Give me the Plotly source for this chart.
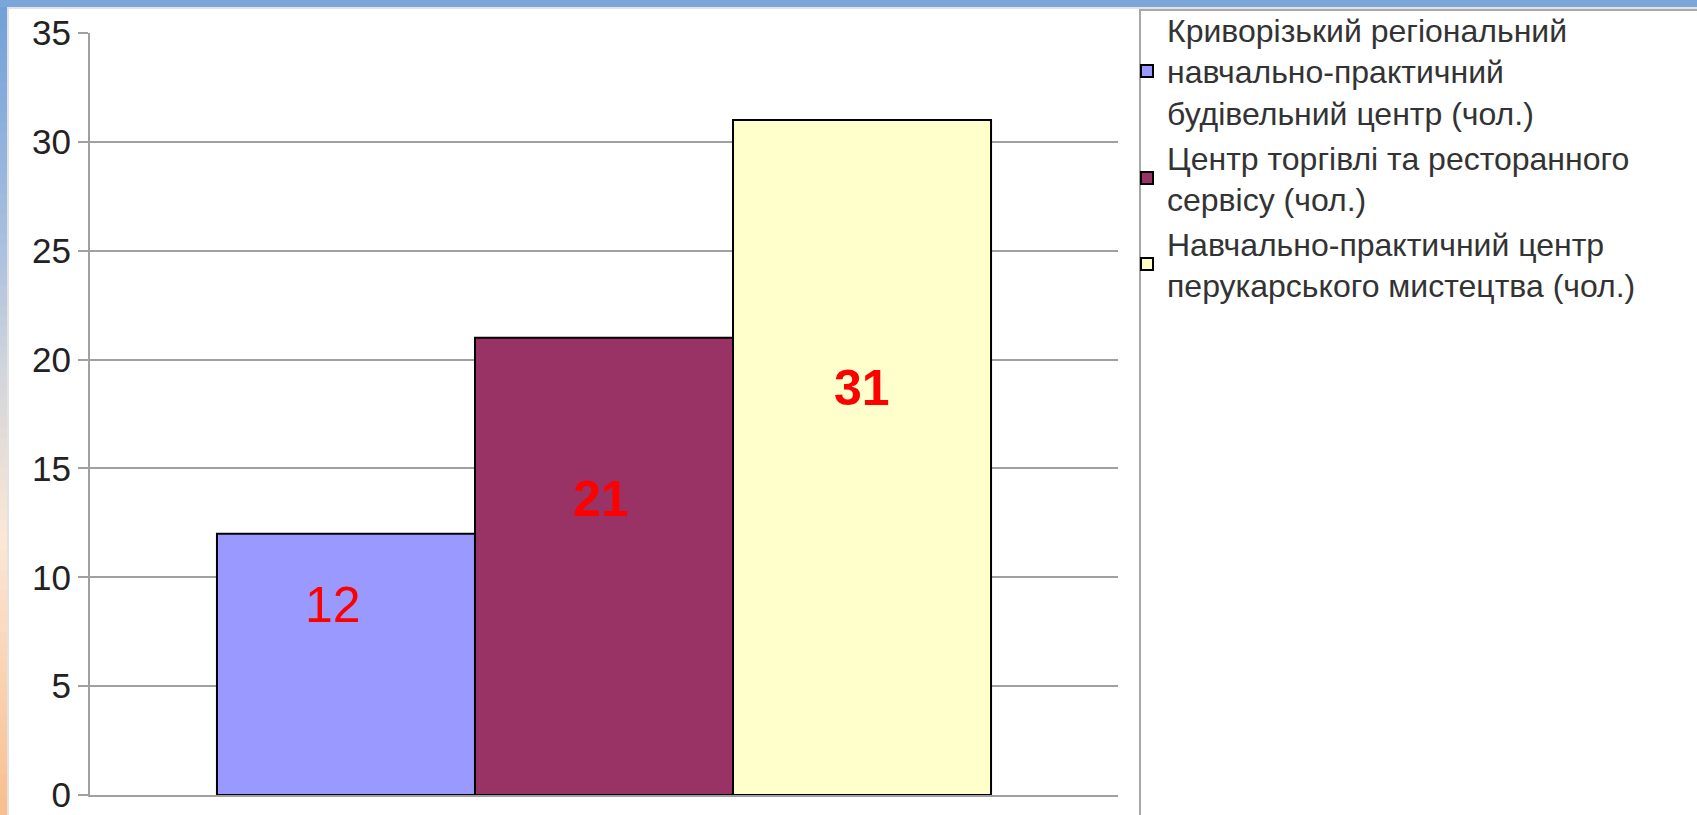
import plotly.graph_objects as go

# ---- data ----
series_names = [
    "Криворізький регіональний<br>навчально-практичний<br>будівельний центр (чол.)",
    "Центр торгівлі та ресторанного<br>сервісу (чол.)",
    "Навчально-практичний центр<br>перукарського мистецтва (чол.)",
]
values = [12, 21, 31]
bar_colors = ["#9999ff", "#993366", "#ffffcc"]
label_bold = [False, True, True]
y_ticks = [0, 5, 10, 15, 20, 25, 30, 35]

# label nudges in pixels (layout only)
label_shift = [(-13, 59), (-3, 67), (0, 70)]

W, H = 1697, 815
FONT = "Liberation Sans, Arial, sans-serif"
bargap = 0.247

fig = go.Figure()
for name, v, c in zip(series_names, values, bar_colors):
    fig.add_trace(go.Bar(
        x=[0], y=[v], name=name,
        marker=dict(color=c, line=dict(color="#000000", width=2)),
        hoverinfo="y+name",
    ))

# value labels
n = len(values)
w = (1 - bargap) / n
for i, (v, b) in enumerate(zip(values, label_bold)):
    dx, dy = label_shift[i]
    fig.add_annotation(
        x=(i - (n - 1) / 2) * w, y=v / 2, xref="x", yref="y",
        text=str(v), showarrow=False, xshift=dx, yshift=dy,
        font=dict(family=FONT, size=50, color="#ff0000", weight="bold" if b else "normal"),
    )

shapes = []
# left gradient strip (decorative frame)
stops = [
    (0.00, (111, 159, 216)),
    (0.30, (169, 192, 223)),
    (0.45, (208, 212, 220)),
    (0.60, (240, 226, 214)),
    (0.66, (252, 231, 214)),
    (1.00, (248, 190, 142)),
]
def col_at(t):
    for (t0, c0), (t1, c1) in zip(stops[:-1], stops[1:]):
        if t0 <= t <= t1:
            f = (t - t0) / (t1 - t0) if t1 > t0 else 0
            return "rgb(%d,%d,%d)" % tuple(round(a + (b - a) * f) for a, b in zip(c0, c1))
    return "rgb(%d,%d,%d)" % stops[-1][1]
N = 80
for k in range(N):
    y0 = 1 - k / N
    y1 = 1 - (k + 1) / N
    shapes.append(dict(type="rect", xref="paper", yref="paper", x0=0, x1=7 / W,
                       y0=y1 - 0.002, y1=y0, fillcolor=col_at((k + 0.5) / N), line=dict(width=0), layer="below"))
# top blue band
shapes.append(dict(type="rect", xref="paper", yref="paper", x0=0, x1=1, y0=1 - 7 / H, y1=1,
                   fillcolor="#7ba6da", line=dict(width=0), layer="below"))
# faint panel edge
shapes.append(dict(type="line", xref="paper", yref="paper", x0=8 / W, x1=8 / W, y0=0, y1=1 - 7 / H,
                   line=dict(color="#e2e2e2", width=2), layer="below"))
shapes.append(dict(type="line", xref="paper", yref="paper", x0=8 / W, x1=1, y0=1 - 8 / H, y1=1 - 8 / H,
                   line=dict(color="#e2e2e2", width=2), layer="below"))
# legend frame
shapes.append(dict(type="rect", xref="paper", yref="paper", x0=1140 / W, x1=1.01, y0=-0.02, y1=1 - 10 / H,
                   line=dict(color="#a8a8a8", width=2), fillcolor="rgba(0,0,0,0)", layer="below"))

fig.update_layout(
    template="none",
    width=W, height=H,
    margin=dict(l=0, r=0, t=0, b=0, pad=0),
    paper_bgcolor="#ffffff", plot_bgcolor="#ffffff",
    barmode="group", bargap=bargap, bargroupgap=0,
    font=dict(family=FONT, color="#222222"),
    showlegend=True,
    legend=dict(
        x=1127 / W, xanchor="left", y=1 - 2 / H, yanchor="top",
        font=dict(family=FONT, size=32, color="#333333"),
        bgcolor="rgba(0,0,0,0)", borderwidth=0,
        tracegroupgap=0, itemsizing="trace",
    ),
    xaxis=dict(
        domain=[90 / W, 1118 / W], range=[-0.5, 0.5], type="linear",
        showticklabels=False, showgrid=False, zeroline=False,
        showline=True, linecolor="#a0a0a0", linewidth=2, ticks="", automargin=False,
    ),
    yaxis=dict(
        domain=[(H - 795) / H, (H - 33) / H], range=[0, 35],
        tickvals=y_ticks, ticktext=[str(t) for t in y_ticks],
        tickfont=dict(family=FONT, size=35, color="#222222"),
        showgrid=True, gridcolor="#a0a0a0", gridwidth=2,
        zeroline=False, showline=True, linecolor="#a0a0a0", linewidth=2,
        ticks="outside", ticklen=10, tickcolor="#a0a0a0", tickwidth=2,
        automargin=False,
    ),
    shapes=shapes,
)

fig.write_html(
    "out.html",
    config={"displayModeBar": False},
    post_script="document.body.style.margin='0';document.body.style.overflow='hidden';",
)
